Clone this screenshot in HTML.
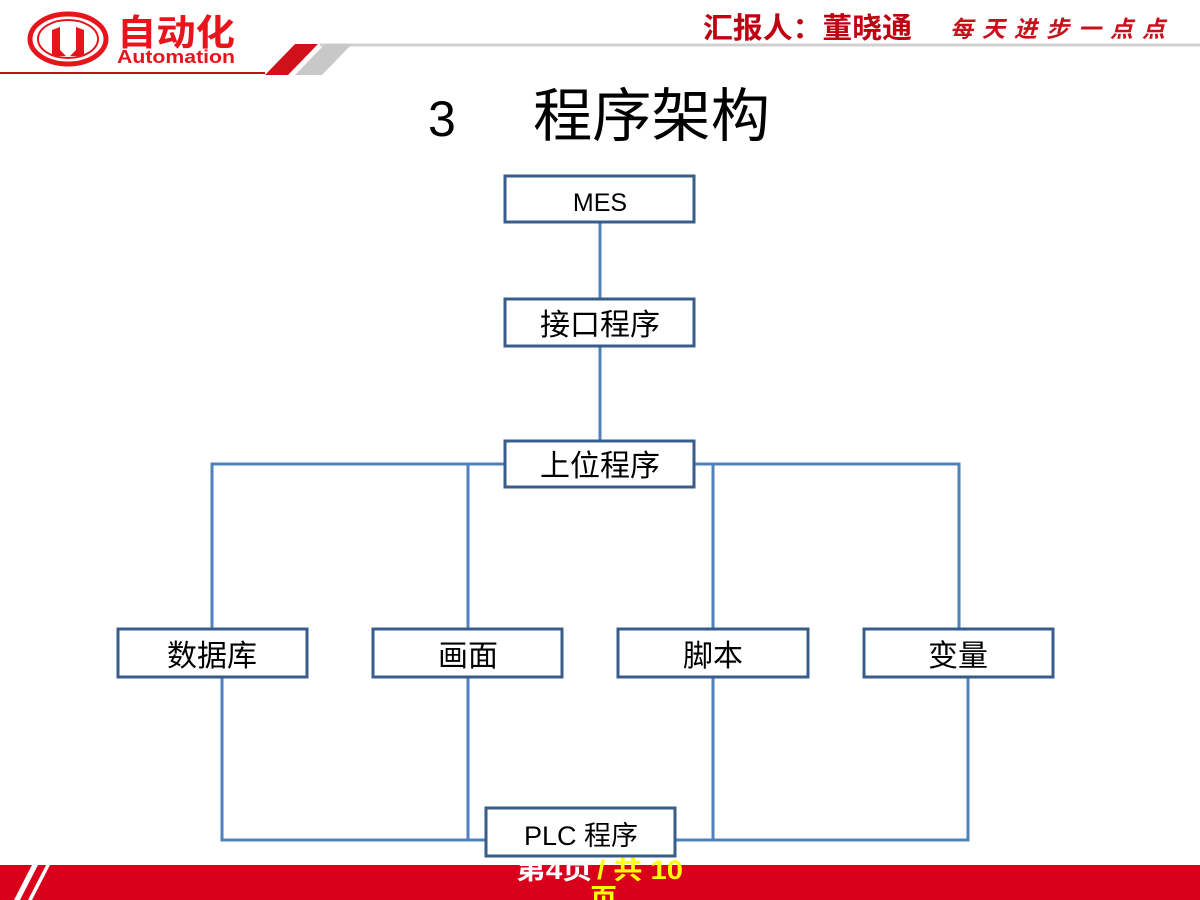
<!DOCTYPE html>
<html><head><meta charset="utf-8"><style>
html,body{margin:0;padding:0;background:#fff;width:1200px;height:900px;overflow:hidden}
svg{display:block}
text{font-family:"Liberation Sans","Noto Sans CJK SC",sans-serif}
</style></head><body>
<svg width="1200" height="900" viewBox="0 0 1200 900" xmlns="http://www.w3.org/2000/svg">
<!-- header -->
<line x1="320" y1="45" x2="1200" y2="45" stroke="#d0d0d0" stroke-width="3"/>
<line x1="0" y1="73" x2="265" y2="73" stroke="#c0101a" stroke-width="2"/>
<polygon points="265,75 295,44 318,44 288,75" fill="#d0101a"/>
<polygon points="295,75 325,44 352,44 322,75" fill="#c8c8c8"/>
<ellipse cx="68" cy="39" rx="38" ry="25" fill="none" stroke="#e8141c" stroke-width="5"/>
<ellipse cx="68" cy="39" rx="30" ry="19" fill="none" stroke="#e8141c" stroke-width="2"/>
<path d="M52,56 L52,30 L60,27 L60,50 L66,56 Z M84,56 L84,30 L76,27 L76,50 L70,56 Z" fill="#e8141c"/>
<text x="117" y="45" font-size="36" font-weight="bold" fill="#e8141c" textLength="118" lengthAdjust="spacingAndGlyphs">自动化</text>
<text x="117" y="63" font-size="18" font-weight="bold" fill="#e8141c" textLength="118" lengthAdjust="spacingAndGlyphs">Automation</text>
<text x="703" y="38" font-size="29" font-weight="bold" fill="#c00010" textLength="209" lengthAdjust="spacingAndGlyphs">汇报人：董晓通</text>
<text x="950" y="37" font-size="23" font-weight="bold" font-style="italic" fill="#c8101c" textLength="215" lengthAdjust="spacing" font-family="Noto Serif CJK SC,serif">每天进步一点点</text>
<!-- title -->
<text x="428" y="136" font-size="50" fill="#000">3</text>
<text x="533" y="136" font-size="58" fill="#000" textLength="237" lengthAdjust="spacingAndGlyphs">程序架构</text>
<!-- footer -->
<rect x="0" y="865" width="1200" height="35" fill="#d9001b"/>
<polygon points="14,900 32,865 38,865 20,900" fill="#fff"/>
<polygon points="28,900 46,865 50,865 32,900" fill="#fff"/>
<text x="516" y="879" font-size="27" font-weight="bold" fill="#fff" textLength="76" lengthAdjust="spacingAndGlyphs">第4页</text>
<text x="597" y="879" font-size="27" font-weight="bold" fill="#ffff00" textLength="86" lengthAdjust="spacingAndGlyphs">/ 共 10</text>
<text x="590" y="908" font-size="27" font-weight="bold" fill="#ffff00">页</text>
<!-- connectors -->
<g stroke="#4f81bd" stroke-width="3" fill="none">
<line x1="600" y1="222" x2="600" y2="299"/>
<line x1="600" y1="346" x2="600" y2="441"/>
<polyline points="212,629 212,464 959,464 959,629"/>
<line x1="468" y1="464" x2="468" y2="629"/>
<line x1="713" y1="464" x2="713" y2="629"/>
<polyline points="222,677 222,840 968,840 968,677"/>
<line x1="468" y1="677" x2="468" y2="840"/>
<line x1="713" y1="677" x2="713" y2="840"/>
</g>
<!-- boxes -->
<g stroke="#385d8a" stroke-width="3" fill="#fff">
<rect x="505" y="176" width="189" height="46"/>
<rect x="505" y="299" width="189" height="47"/>
<rect x="505" y="441" width="189" height="46"/>
<rect x="118" y="629" width="189" height="48"/>
<rect x="373" y="629" width="189" height="48"/>
<rect x="618" y="629" width="190" height="48"/>
<rect x="864" y="629" width="189" height="48"/>
<rect x="486" y="808" width="189" height="48"/>
</g>
<g font-size="30" fill="#000" text-anchor="middle">
<text x="600" y="211" font-size="25">MES</text>
<text x="600" y="335">接口程序</text>
<text x="600" y="476">上位程序</text>
<text x="212" y="666">数据库</text>
<text x="468" y="666">画面</text>
<text x="713" y="666">脚本</text>
<text x="958" y="666">变量</text>
<text x="581" y="845" font-size="27">PLC 程序</text>
</g>
</svg>
</body></html>
